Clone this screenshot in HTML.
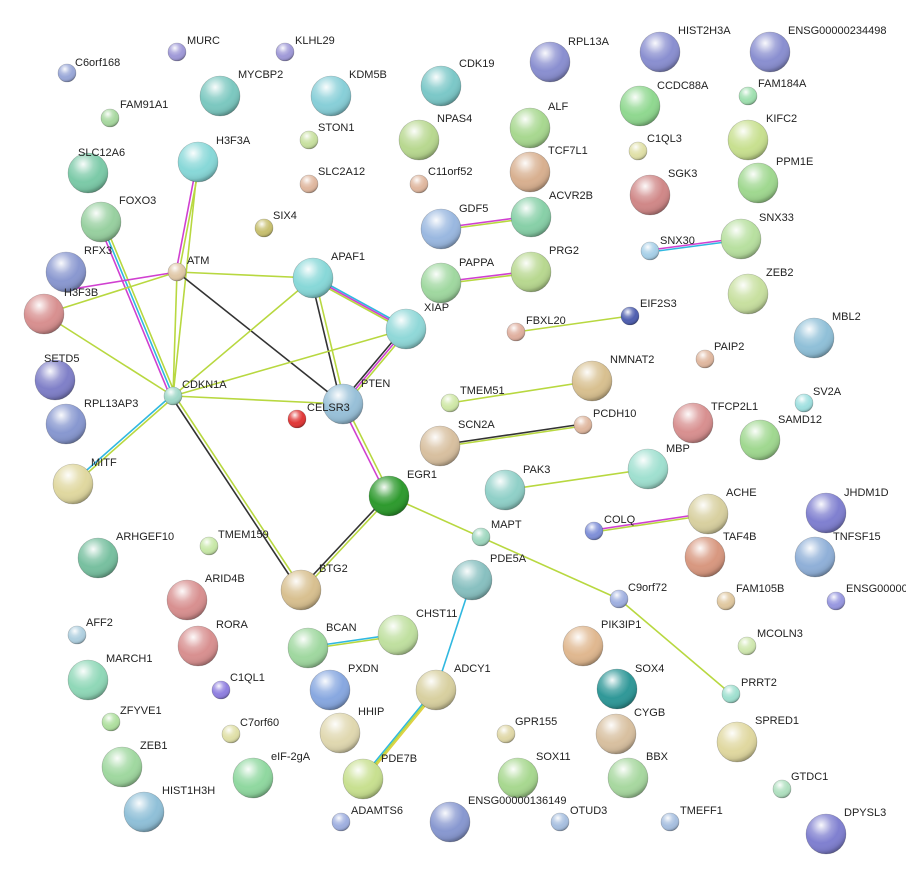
<!DOCTYPE html>
<html><head><meta charset="utf-8"><style>
html,body{margin:0;padding:0;background:#fff;}
svg{display:block;}
text{font-family:"Liberation Sans",sans-serif;font-size:11px;fill:#222;}
</style></head><body>
<svg width="906" height="878" viewBox="0 0 906 878" xmlns="http://www.w3.org/2000/svg">
<defs>
<radialGradient id="sh" cx="38%" cy="28%" r="75%">
<stop offset="0" stop-color="#fff" stop-opacity="0.95"/>
<stop offset="0.35" stop-color="#fff" stop-opacity="0.25"/>
<stop offset="0.6" stop-color="#fff" stop-opacity="0"/>
<stop offset="0.85" stop-color="#000" stop-opacity="0.08"/>
<stop offset="1" stop-color="#000" stop-opacity="0.35"/>
</radialGradient>
</defs>
<g stroke-width="1.6" fill="none">
<!-- ATM-H3F3A -->
<line x1="176" y1="272" x2="197" y2="162" stroke="#d040d0"/>
<line x1="179" y1="272" x2="200" y2="162" stroke="#b8d840"/>
<!-- FOXO3-CDKN1A triple -->
<line x1="98" y1="222" x2="170" y2="396" stroke="#d040d0"/>
<line x1="101" y1="222" x2="173" y2="396" stroke="#30b8e0"/>
<line x1="104" y1="222" x2="176" y2="396" stroke="#b8d840"/>
<line x1="198" y1="162" x2="173" y2="396" stroke="#b8d840"/>
<line x1="177" y1="272" x2="173" y2="396" stroke="#b8d840"/>
<line x1="177" y1="272" x2="66" y2="290" stroke="#d040d0"/>
<line x1="177" y1="272" x2="44" y2="314" stroke="#b8d840"/>
<line x1="44" y1="314" x2="173" y2="396" stroke="#b8d840"/>
<line x1="177" y1="272" x2="313" y2="278" stroke="#b8d840"/>
<line x1="177" y1="272" x2="343" y2="404" stroke="#333"/>
<line x1="311" y1="278" x2="341" y2="404" stroke="#333"/>
<line x1="315" y1="278" x2="345" y2="404" stroke="#b8d840"/>
<line x1="313" y1="276" x2="406" y2="327" stroke="#30b8e0"/>
<line x1="313" y1="278" x2="406" y2="329" stroke="#d040d0"/>
<line x1="313" y1="280" x2="406" y2="331" stroke="#b8d840"/>
<line x1="313" y1="278" x2="173" y2="396" stroke="#b8d840"/>
<line x1="406" y1="329" x2="173" y2="396" stroke="#b8d840"/>
<line x1="403" y1="329" x2="340" y2="404" stroke="#333"/>
<line x1="406" y1="329" x2="343" y2="404" stroke="#d040d0"/>
<line x1="409" y1="329" x2="346" y2="404" stroke="#b8d840"/>
<line x1="173" y1="396" x2="343" y2="404" stroke="#b8d840"/>
<line x1="171" y1="396" x2="71" y2="484" stroke="#30b8e0"/>
<line x1="175" y1="396" x2="75" y2="484" stroke="#b8d840"/>
<line x1="171" y1="396" x2="299" y2="590" stroke="#333"/>
<line x1="175" y1="396" x2="303" y2="590" stroke="#b8d840"/>
<line x1="341" y1="404" x2="387" y2="496" stroke="#d040d0"/>
<line x1="345" y1="404" x2="391" y2="496" stroke="#b8d840"/>
<line x1="387" y1="496" x2="299" y2="590" stroke="#333"/>
<line x1="391" y1="496" x2="303" y2="590" stroke="#b8d840"/>
<line x1="389" y1="496" x2="619" y2="599" stroke="#b8d840"/>
<line x1="619" y1="599" x2="731" y2="694" stroke="#b8d840"/>
<line x1="441" y1="228" x2="531" y2="216" stroke="#d040d0"/>
<line x1="441" y1="230" x2="531" y2="218" stroke="#b8d840"/>
<line x1="441" y1="282" x2="531" y2="271" stroke="#d040d0"/>
<line x1="441" y1="284" x2="531" y2="273" stroke="#b8d840"/>
<line x1="650" y1="250" x2="741" y2="238" stroke="#d040d0"/>
<line x1="650" y1="252" x2="741" y2="240" stroke="#30b8e0"/>
<line x1="516" y1="332" x2="630" y2="316" stroke="#b8d840"/>
<line x1="450" y1="403" x2="592" y2="381" stroke="#b8d840"/>
<line x1="440" y1="445" x2="583" y2="424" stroke="#333"/>
<line x1="440" y1="447" x2="583" y2="426" stroke="#b8d840"/>
<line x1="505" y1="490" x2="648" y2="469" stroke="#b8d840"/>
<line x1="594" y1="530" x2="708" y2="513" stroke="#d040d0"/>
<line x1="594" y1="532" x2="708" y2="515" stroke="#b8d840"/>
<line x1="308" y1="647" x2="398" y2="634" stroke="#30b8e0"/>
<line x1="308" y1="649" x2="398" y2="636" stroke="#b8d840"/>
<line x1="472" y1="580" x2="436" y2="690" stroke="#30b8e0"/>
<line x1="434" y1="690" x2="361" y2="779" stroke="#30b8e0"/>
<line x1="436" y1="690" x2="363" y2="779" stroke="#b8d840"/>
<line x1="438" y1="690" x2="365" y2="779" stroke="#e0d040"/>
</g>
<g stroke="rgba(0,0,0,0.25)" stroke-width="0.6">
<circle cx="67" cy="73" r="9" fill="#9aa8d8"/>
<circle cx="177" cy="52" r="9" fill="#a09ad8"/>
<circle cx="285" cy="52" r="9" fill="#a09ad8"/>
<circle cx="220" cy="96" r="20" fill="#7cc8c0"/>
<circle cx="331" cy="96" r="20" fill="#88cfd8"/>
<circle cx="441" cy="86" r="20" fill="#7cc8c8"/>
<circle cx="550" cy="62" r="20" fill="#8a8fd0"/>
<circle cx="660" cy="52" r="20" fill="#8a8fd0"/>
<circle cx="770" cy="52" r="20" fill="#8a8fd0"/>
<circle cx="110" cy="118" r="9" fill="#a8d8a0"/>
<circle cx="309" cy="140" r="9" fill="#c8e0a0"/>
<circle cx="419" cy="140" r="20" fill="#b8d890"/>
<circle cx="530" cy="128" r="20" fill="#a8d890"/>
<circle cx="640" cy="106" r="20" fill="#90d890"/>
<circle cx="748" cy="96" r="9" fill="#a0e0b0"/>
<circle cx="748" cy="140" r="20" fill="#c8e090"/>
<circle cx="88" cy="173" r="20" fill="#7ccaa8"/>
<circle cx="198" cy="162" r="20" fill="#88d8d8"/>
<circle cx="309" cy="184" r="9" fill="#e0b8a0"/>
<circle cx="419" cy="184" r="9" fill="#e0b8a0"/>
<circle cx="530" cy="172" r="20" fill="#d8b090"/>
<circle cx="638" cy="151" r="9" fill="#e0e0a8"/>
<circle cx="650" cy="195" r="20" fill="#d08888"/>
<circle cx="758" cy="183" r="20" fill="#a0d890"/>
<circle cx="101" cy="222" r="20" fill="#98d0a0"/>
<circle cx="264" cy="228" r="9" fill="#c8c070"/>
<circle cx="441" cy="229" r="20" fill="#9ab8e0"/>
<circle cx="531" cy="217" r="20" fill="#88d0a8"/>
<circle cx="741" cy="239" r="20" fill="#b8e0a0"/>
<circle cx="650" cy="251" r="9" fill="#a8d0e8"/>
<circle cx="66" cy="272" r="20" fill="#8a98d0"/>
<circle cx="177" cy="272" r="9" fill="#e0c8a8"/>
<circle cx="313" cy="278" r="20" fill="#88d8d8"/>
<circle cx="441" cy="283" r="20" fill="#a0d8a0"/>
<circle cx="531" cy="272" r="20" fill="#b8d890"/>
<circle cx="748" cy="294" r="20" fill="#c8e0a0"/>
<circle cx="44" cy="314" r="20" fill="#d89090"/>
<circle cx="406" cy="329" r="20" fill="#90d8d8"/>
<circle cx="630" cy="316" r="9" fill="#5060b0"/>
<circle cx="516" cy="332" r="9" fill="#e0b0a0"/>
<circle cx="814" cy="338" r="20" fill="#90c0d8"/>
<circle cx="705" cy="359" r="9" fill="#e0b8a0"/>
<circle cx="55" cy="380" r="20" fill="#8080c8"/>
<circle cx="173" cy="396" r="9" fill="#a0d8c8"/>
<circle cx="592" cy="381" r="20" fill="#d8c090"/>
<circle cx="450" cy="403" r="9" fill="#d0e8a8"/>
<circle cx="343" cy="404" r="20" fill="#98c0d8"/>
<circle cx="804" cy="403" r="9" fill="#a0e0e0"/>
<circle cx="66" cy="424" r="20" fill="#8898d0"/>
<circle cx="583" cy="425" r="9" fill="#e0b8a0"/>
<circle cx="693" cy="423" r="20" fill="#d89090"/>
<circle cx="297" cy="419" r="9" fill="#e03838"/>
<circle cx="440" cy="446" r="20" fill="#d8c0a0"/>
<circle cx="760" cy="440" r="20" fill="#a0d890"/>
<circle cx="648" cy="469" r="20" fill="#a0e0d0"/>
<circle cx="73" cy="484" r="20" fill="#e0d8a0"/>
<circle cx="389" cy="496" r="20" fill="#2e9a2e"/>
<circle cx="505" cy="490" r="20" fill="#90d0c8"/>
<circle cx="708" cy="514" r="20" fill="#d8d0a0"/>
<circle cx="826" cy="513" r="20" fill="#8080d0"/>
<circle cx="594" cy="531" r="9" fill="#8090d8"/>
<circle cx="98" cy="558" r="20" fill="#78c0a0"/>
<circle cx="209" cy="546" r="9" fill="#c8e8a8"/>
<circle cx="481" cy="537" r="9" fill="#a0d8c0"/>
<circle cx="705" cy="557" r="20" fill="#d89880"/>
<circle cx="815" cy="557" r="20" fill="#90b0d8"/>
<circle cx="472" cy="580" r="20" fill="#88c0c0"/>
<circle cx="187" cy="600" r="20" fill="#d89090"/>
<circle cx="301" cy="590" r="20" fill="#d8c090"/>
<circle cx="619" cy="599" r="9" fill="#a0b0e0"/>
<circle cx="726" cy="601" r="9" fill="#e0c8a0"/>
<circle cx="836" cy="601" r="9" fill="#9898e0"/>
<circle cx="77" cy="635" r="9" fill="#b0d0e0"/>
<circle cx="398" cy="635" r="20" fill="#c0e0a0"/>
<circle cx="308" cy="648" r="20" fill="#a0d8a0"/>
<circle cx="198" cy="646" r="20" fill="#d89090"/>
<circle cx="583" cy="646" r="20" fill="#e0b890"/>
<circle cx="747" cy="646" r="9" fill="#d0e8b0"/>
<circle cx="88" cy="680" r="20" fill="#90d8b8"/>
<circle cx="221" cy="690" r="9" fill="#9080e0"/>
<circle cx="330" cy="690" r="20" fill="#88a8e0"/>
<circle cx="436" cy="690" r="20" fill="#d8d0a0"/>
<circle cx="617" cy="689" r="20" fill="#309898"/>
<circle cx="731" cy="694" r="9" fill="#a0e0d0"/>
<circle cx="111" cy="722" r="9" fill="#b0e0a0"/>
<circle cx="231" cy="734" r="9" fill="#e0e0a8"/>
<circle cx="340" cy="733" r="20" fill="#e0d8b0"/>
<circle cx="506" cy="734" r="9" fill="#e0d8a8"/>
<circle cx="616" cy="734" r="20" fill="#d8c0a0"/>
<circle cx="737" cy="742" r="20" fill="#e0d8a0"/>
<circle cx="122" cy="767" r="20" fill="#a0d8a0"/>
<circle cx="253" cy="778" r="20" fill="#90d8a0"/>
<circle cx="363" cy="779" r="20" fill="#c8e090"/>
<circle cx="518" cy="778" r="20" fill="#a8d890"/>
<circle cx="628" cy="778" r="20" fill="#a8d8a0"/>
<circle cx="782" cy="789" r="9" fill="#b0e0c0"/>
<circle cx="144" cy="812" r="20" fill="#90c0d8"/>
<circle cx="341" cy="822" r="9" fill="#a0b0e0"/>
<circle cx="450" cy="822" r="20" fill="#8898d0"/>
<circle cx="560" cy="822" r="9" fill="#a8c0e0"/>
<circle cx="670" cy="822" r="9" fill="#a8c0e0"/>
<circle cx="826" cy="834" r="20" fill="#8080d0"/>
</g>
<g fill="url(#sh)">
<circle cx="67" cy="73" r="9"/><circle cx="177" cy="52" r="9"/><circle cx="285" cy="52" r="9"/>
<circle cx="220" cy="96" r="20"/><circle cx="331" cy="96" r="20"/><circle cx="441" cy="86" r="20"/>
<circle cx="550" cy="62" r="20"/><circle cx="660" cy="52" r="20"/><circle cx="770" cy="52" r="20"/>
<circle cx="110" cy="118" r="9"/><circle cx="309" cy="140" r="9"/><circle cx="419" cy="140" r="20"/>
<circle cx="530" cy="128" r="20"/><circle cx="640" cy="106" r="20"/><circle cx="748" cy="96" r="9"/>
<circle cx="748" cy="140" r="20"/><circle cx="88" cy="173" r="20"/><circle cx="198" cy="162" r="20"/>
<circle cx="309" cy="184" r="9"/><circle cx="419" cy="184" r="9"/><circle cx="530" cy="172" r="20"/>
<circle cx="638" cy="151" r="9"/><circle cx="650" cy="195" r="20"/><circle cx="758" cy="183" r="20"/>
<circle cx="101" cy="222" r="20"/><circle cx="264" cy="228" r="9"/><circle cx="441" cy="229" r="20"/>
<circle cx="531" cy="217" r="20"/><circle cx="741" cy="239" r="20"/><circle cx="650" cy="251" r="9"/>
<circle cx="66" cy="272" r="20"/><circle cx="177" cy="272" r="9"/><circle cx="313" cy="278" r="20"/>
<circle cx="441" cy="283" r="20"/><circle cx="531" cy="272" r="20"/><circle cx="748" cy="294" r="20"/>
<circle cx="44" cy="314" r="20"/><circle cx="406" cy="329" r="20"/><circle cx="630" cy="316" r="9"/>
<circle cx="516" cy="332" r="9"/><circle cx="814" cy="338" r="20"/><circle cx="705" cy="359" r="9"/>
<circle cx="55" cy="380" r="20"/><circle cx="173" cy="396" r="9"/><circle cx="592" cy="381" r="20"/>
<circle cx="450" cy="403" r="9"/><circle cx="343" cy="404" r="20"/><circle cx="804" cy="403" r="9"/>
<circle cx="66" cy="424" r="20"/><circle cx="583" cy="425" r="9"/><circle cx="693" cy="423" r="20"/>
<circle cx="297" cy="419" r="9"/><circle cx="440" cy="446" r="20"/><circle cx="760" cy="440" r="20"/>
<circle cx="648" cy="469" r="20"/><circle cx="73" cy="484" r="20"/><circle cx="389" cy="496" r="20"/>
<circle cx="505" cy="490" r="20"/><circle cx="708" cy="514" r="20"/><circle cx="826" cy="513" r="20"/>
<circle cx="594" cy="531" r="9"/><circle cx="98" cy="558" r="20"/><circle cx="209" cy="546" r="9"/>
<circle cx="481" cy="537" r="9"/><circle cx="705" cy="557" r="20"/><circle cx="815" cy="557" r="20"/>
<circle cx="472" cy="580" r="20"/><circle cx="187" cy="600" r="20"/><circle cx="301" cy="590" r="20"/>
<circle cx="619" cy="599" r="9"/><circle cx="726" cy="601" r="9"/><circle cx="836" cy="601" r="9"/>
<circle cx="77" cy="635" r="9"/><circle cx="398" cy="635" r="20"/><circle cx="308" cy="648" r="20"/>
<circle cx="198" cy="646" r="20"/><circle cx="583" cy="646" r="20"/><circle cx="747" cy="646" r="9"/>
<circle cx="88" cy="680" r="20"/><circle cx="221" cy="690" r="9"/><circle cx="330" cy="690" r="20"/>
<circle cx="436" cy="690" r="20"/><circle cx="617" cy="689" r="20"/><circle cx="731" cy="694" r="9"/>
<circle cx="111" cy="722" r="9"/><circle cx="231" cy="734" r="9"/><circle cx="340" cy="733" r="20"/>
<circle cx="506" cy="734" r="9"/><circle cx="616" cy="734" r="20"/><circle cx="737" cy="742" r="20"/>
<circle cx="122" cy="767" r="20"/><circle cx="253" cy="778" r="20"/><circle cx="363" cy="779" r="20"/>
<circle cx="518" cy="778" r="20"/><circle cx="628" cy="778" r="20"/><circle cx="782" cy="789" r="9"/>
<circle cx="144" cy="812" r="20"/><circle cx="341" cy="822" r="9"/><circle cx="450" cy="822" r="20"/>
<circle cx="560" cy="822" r="9"/><circle cx="670" cy="822" r="9"/><circle cx="826" cy="834" r="20"/>
</g>
<g>
<text x="75" y="66">C6orf168</text>
<text x="187" y="44">MURC</text>
<text x="295" y="44">KLHL29</text>
<text x="238" y="78">MYCBP2</text>
<text x="349" y="78">KDM5B</text>
<text x="459" y="67">CDK19</text>
<text x="568" y="45">RPL13A</text>
<text x="678" y="34">HIST2H3A</text>
<text x="788" y="34">ENSG00000234498</text>
<text x="120" y="108">FAM91A1</text>
<text x="318" y="131">STON1</text>
<text x="437" y="122">NPAS4</text>
<text x="548" y="110">ALF</text>
<text x="657" y="89">CCDC88A</text>
<text x="758" y="87">FAM184A</text>
<text x="766" y="122">KIFC2</text>
<text x="78" y="156">SLC12A6</text>
<text x="216" y="144">H3F3A</text>
<text x="318" y="175">SLC2A12</text>
<text x="428" y="175">C11orf52</text>
<text x="548" y="154">TCF7L1</text>
<text x="647" y="142">C1QL3</text>
<text x="668" y="177">SGK3</text>
<text x="776" y="165">PPM1E</text>
<text x="119" y="204">FOXO3</text>
<text x="273" y="219">SIX4</text>
<text x="459" y="212">GDF5</text>
<text x="549" y="199">ACVR2B</text>
<text x="759" y="221">SNX33</text>
<text x="660" y="244">SNX30</text>
<text x="84" y="254">RFX3</text>
<text x="187" y="264">ATM</text>
<text x="331" y="260">APAF1</text>
<text x="459" y="266">PAPPA</text>
<text x="549" y="254">PRG2</text>
<text x="766" y="276">ZEB2</text>
<text x="64" y="296">H3F3B</text>
<text x="424" y="311">XIAP</text>
<text x="640" y="307">EIF2S3</text>
<text x="526" y="324">FBXL20</text>
<text x="832" y="320">MBL2</text>
<text x="714" y="350">PAIP2</text>
<text x="44" y="362">SETD5</text>
<text x="182" y="388">CDKN1A</text>
<text x="610" y="363">NMNAT2</text>
<text x="460" y="394">TMEM51</text>
<text x="361" y="387">PTEN</text>
<text x="813" y="395">SV2A</text>
<text x="84" y="407">RPL13AP3</text>
<text x="593" y="417">PCDH10</text>
<text x="711" y="410">TFCP2L1</text>
<text x="307" y="411">CELSR3</text>
<text x="458" y="428">SCN2A</text>
<text x="778" y="423">SAMD12</text>
<text x="666" y="452">MBP</text>
<text x="91" y="466">MITF</text>
<text x="407" y="478">EGR1</text>
<text x="523" y="473">PAK3</text>
<text x="726" y="496">ACHE</text>
<text x="844" y="496">JHDM1D</text>
<text x="604" y="523">COLQ</text>
<text x="116" y="540">ARHGEF10</text>
<text x="218" y="538">TMEM159</text>
<text x="491" y="528">MAPT</text>
<text x="723" y="540">TAF4B</text>
<text x="833" y="540">TNFSF15</text>
<text x="490" y="562">PDE5A</text>
<text x="205" y="582">ARID4B</text>
<text x="319" y="572">BTG2</text>
<text x="628" y="591">C9orf72</text>
<text x="736" y="592">FAM105B</text>
<text x="846" y="592">ENSG00000</text>
<text x="86" y="626">AFF2</text>
<text x="416" y="617">CHST11</text>
<text x="326" y="631">BCAN</text>
<text x="216" y="628">RORA</text>
<text x="601" y="628">PIK3IP1</text>
<text x="757" y="637">MCOLN3</text>
<text x="106" y="662">MARCH1</text>
<text x="230" y="681">C1QL1</text>
<text x="348" y="672">PXDN</text>
<text x="454" y="672">ADCY1</text>
<text x="635" y="672">SOX4</text>
<text x="741" y="686">PRRT2</text>
<text x="120" y="714">ZFYVE1</text>
<text x="240" y="726">C7orf60</text>
<text x="358" y="715">HHIP</text>
<text x="515" y="725">GPR155</text>
<text x="634" y="716">CYGB</text>
<text x="755" y="724">SPRED1</text>
<text x="140" y="749">ZEB1</text>
<text x="271" y="760">eIF-2gA</text>
<text x="381" y="762">PDE7B</text>
<text x="536" y="760">SOX11</text>
<text x="646" y="760">BBX</text>
<text x="791" y="780">GTDC1</text>
<text x="162" y="794">HIST1H3H</text>
<text x="351" y="814">ADAMTS6</text>
<text x="468" y="804">ENSG00000136149</text>
<text x="570" y="814">OTUD3</text>
<text x="680" y="814">TMEFF1</text>
<text x="844" y="816">DPYSL3</text>
</g>
</svg>
</body></html>
